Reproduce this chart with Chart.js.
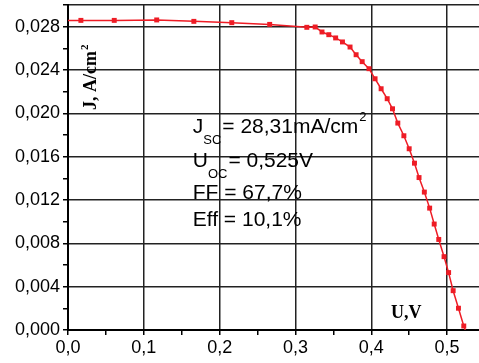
<!DOCTYPE html>
<html>
<head>
<meta charset="utf-8">
<script src="https://cdn.jsdelivr.net/npm/chart.js@4"></script>
<style>
  html, body { margin: 0; padding: 0; background: #fff; overflow: hidden; }
</style>
</head>
<body>
<canvas id="ivChart" width="485" height="363"></canvas>
<script>
// J-V curve of the solar cell
const voltage = [0.000, 0.017, 0.061, 0.117, 0.166, 0.216, 0.266, 0.315, 0.326, 0.335, 0.344,
  0.353, 0.362, 0.372, 0.380, 0.388, 0.397, 0.405, 0.413, 0.421, 0.428, 0.435, 0.443,
  0.450, 0.457, 0.463, 0.470, 0.477, 0.483, 0.489, 0.496, 0.502, 0.508, 0.515, 0.522, 0.524];
const current = [0.02858, 0.02858, 0.02858, 0.02862, 0.02849, 0.02837, 0.02821, 0.02794, 0.02797,
  0.02751, 0.02726, 0.02696, 0.02659, 0.02612, 0.02541, 0.02477, 0.02412, 0.02319, 0.02227,
  0.02135, 0.02042, 0.01910, 0.01793, 0.01673, 0.01540, 0.01407, 0.01273, 0.01125, 0.00978,
  0.00836, 0.00677, 0.00530, 0.00363, 0.00201, 0.00037, 0.00000];

const xTicks = [0, 0.05, 0.1, 0.15, 0.2, 0.25, 0.3, 0.35, 0.4, 0.45, 0.5, 0.55];
const xLabels = ["0,0", "", "0,1", "", "0,2", "", "0,3", "", "0,4", "", "0,5", ""];
const yTicks = [0, 0.002, 0.004, 0.006, 0.008, 0.010, 0.012, 0.014, 0.016, 0.018, 0.020,
  0.022, 0.024, 0.026, 0.028, 0.030];
const yLabels = ["0,000", "", "0,004", "", "0,008", "", "0,012", "", "0,016", "", "0,020",
  "", "0,024", "", "0,028", ""];

const xTitle = "U,V";
const yTitle = "J, A/cm";
const infoLines = [
  ["J", "SC", "= 28,31mA/cm", "2"],
  ["U", "OC", "= 0,525V", ""],
  ["FF = 67,7%", "", "", ""],
  ["Eff = 10,1%", "", "", ""],
];

const RED = "#ee1c25";
const SANS = "'Liberation Sans', Arial, sans-serif";
const SERIF = "'Liberation Serif', 'Times New Roman', serif";

// marker on every point except the two ends sitting on the axes
const radii = voltage.map((v, i) => (i === 0 || i === voltage.length - 1 ? 0 : 3.5));

const textPlugin = {
  id: "texts",
  afterDatasetsDraw(chart) {
    const ctx = chart.ctx;
    const xs = chart.scales.x;
    const ys = chart.scales.y;
    ctx.save();
    ctx.fillStyle = "#000";
    ctx.textBaseline = "alphabetic";

    // info block
    const x0 = xs.getPixelForValue(0.1645);
    const baselines = [0.0182, 0.01505, 0.01209, 0.0096];
    infoLines.forEach((line, i) => {
      let x = x0;
      const y = ys.getPixelForValue(baselines[i]);
      ctx.font = "21px " + SANS;
      ctx.fillText(line[0], x, y);
      x += ctx.measureText(line[0]).width;
      if (line[1]) {
        ctx.font = "13px " + SANS;
        ctx.fillText(line[1], x, y + 11);
        x += ctx.measureText(line[1]).width + 1;
      }
      if (line[2]) {
        ctx.font = "21px " + SANS;
        ctx.fillText(line[2], x, y);
        x += ctx.measureText(line[2]).width;
      }
      if (line[3]) {
        ctx.font = "13px " + SANS;
        ctx.fillText(line[3], x + 1, y - 12);
      }
    });

    // x axis title inside the plot
    ctx.font = "bold 18px " + SERIF;
    ctx.fillText(xTitle, xs.getPixelForValue(0.426), ys.getPixelForValue(0.00111));

    // y axis title, rotated
    ctx.translate(xs.getPixelForValue(0.037), ys.getPixelForValue(0.0203));
    ctx.rotate(-Math.PI / 2);
    ctx.font = "bold 18px " + SERIF;
    ctx.fillText(yTitle, 0, 0);
    const w = ctx.measureText(yTitle).width;
    ctx.font = "bold 11px " + SERIF;
    ctx.fillText("2", w + 1, -8);
    ctx.restore();
  },
};

function gridColor(labels, keepLast) {
  return (c) => (labels[c.index] || (keepLast && c.index === labels.length - 1) ? "#222" : "rgba(0,0,0,0)");
}

function noPadding(s) {
  s.paddingTop = 0;
  s.paddingBottom = 0;
  s.paddingLeft = 0;
  s.paddingRight = 0;
}

const ctx = document.getElementById("ivChart").getContext("2d");
new Chart(ctx, {
  type: "line",
  data: {
    datasets: [
      {
        data: voltage.map((u, i) => ({ x: u, y: current[i] })),
        borderColor: RED,
        backgroundColor: RED,
        borderWidth: 1.5,
        pointStyle: "rect",
        pointRadius: radii,
        pointBorderWidth: 0,
        tension: 0,
        fill: false,
      },
    ],
  },
  options: {
    responsive: false,
    animation: false,
    layout: { padding: { top: 5, right: 0, left: 0, bottom: 0 } },
    plugins: { legend: { display: false }, tooltip: { enabled: false } },
    scales: {
      x: {
        type: "linear",
        min: 0,
        max: 0.55,
        afterBuildTicks: (s) => { s.ticks = xTicks.map((v) => ({ value: v })); },
        afterFit: (s) => { s.height = 33; noPadding(s); },
        ticks: {
          autoSkip: false,
          maxRotation: 0,
          color: "#000",
          padding: 2,
          font: { family: SANS, size: 18 },
          callback: (v, i) => xLabels[i],
        },
        grid: { color: gridColor(xLabels, false), lineWidth: 1.5, tickColor: "#000", tickLength: 5, tickWidth: 1.5 },
        border: { color: "#000", width: 2 },
      },
      y: {
        type: "linear",
        min: 0,
        max: 0.03,
        afterBuildTicks: (s) => { s.ticks = yTicks.map((v) => ({ value: v })); },
        afterFit: (s) => { s.width = 68; noPadding(s); },
        ticks: {
          autoSkip: false,
          color: "#000",
          padding: 3,
          font: { family: SANS, size: 18 },
          callback: (v, i) => yLabels[i],
        },
        grid: { color: gridColor(yLabels, true), lineWidth: 1.5, tickColor: "#000", tickLength: 5, tickWidth: 1.5 },
        border: { color: "#000", width: 2 },
      },
    },
  },
  plugins: [textPlugin],
});
</script>
</body>
</html>
